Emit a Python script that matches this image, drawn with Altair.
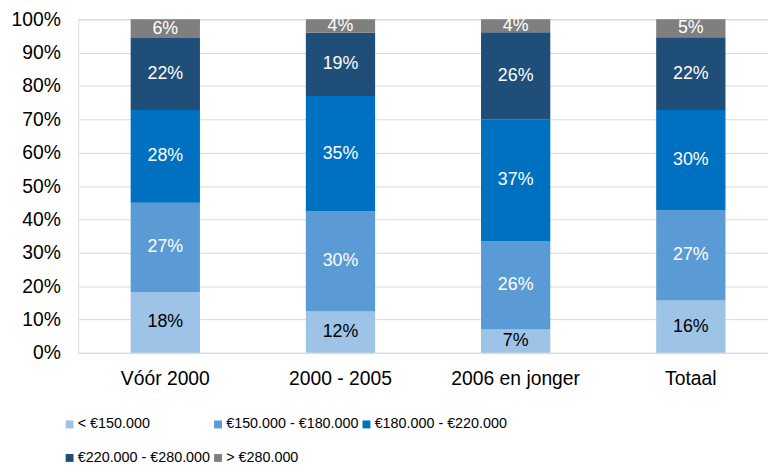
import altair as alt
import pandas as pd

categories = ["Vóór 2000", "2000 - 2005", "2006 en jonger", "Totaal"]
brackets = ["< €150.000", "€150.000 - €180.000", "€180.000 - €220.000",
            "€220.000 - €280.000", "> €280.000"]
colors = ["#9DC3E6", "#5B9BD5", "#0070C0", "#1F4E79", "#7F7F7F"]

share_lt150 = [18.2, 12.4, 7.0, 15.7]
share_150_180 = [26.8, 30.0, 26.4, 27.0]
share_180_220 = [27.8, 34.6, 36.6, 30.1]
share_220_280 = [21.6, 19.0, 26.1, 21.8]
share_gt280 = [5.6, 4.0, 3.9, 5.4]

y_ticks = [0, 10, 20, 30, 40, 50, 60, 70, 80, 90, 100]

series = [share_lt150, share_150_180, share_180_220, share_220_280, share_gt280]
rows = []
for bi, (b, vals) in enumerate(zip(brackets, series)):
    for c, v in zip(categories, vals):
        rows.append({"cat": c, "bracket": b, "order": bi, "value": v})
df = pd.DataFrame(rows)

FONT = "Liberation Sans"

base = alt.Chart(df).transform_stack(
    stack="value",
    groupby=["cat"],
    sort=[alt.SortField("order", order="ascending")],
    as_=["y0", "y1"],
).transform_calculate(
    mid="(datum.y0 + datum.y1) / 2",
    label="format(datum.value, '.0f') + '%'",
)

x_scale = alt.Scale(paddingInner=0.6045, paddingOuter=0.271, align=0.552)
y_scale = alt.Scale(domain=[0, 100], nice=False)
x_axis = alt.Axis(title=None, labelAngle=0, ticks=False, domain=False,
                  labelFontSize=19.5, labelPadding=17, labelColor="#000000",
                  labelFont=FONT)
y_axis = alt.Axis(values=y_ticks, labelExpr="datum.value + '%'",
                  title=None, ticks=False, domain=False, grid=True,
                  gridColor="#D9D9D9", gridWidth=1, labelOverlap=False,
                  labelPadding=18, labelFontSize=19.5,
                  labelColor="#000000", labelFont=FONT)

bars = base.mark_bar().encode(
    x=alt.X("cat:N", sort=categories, scale=x_scale, axis=x_axis),
    y=alt.Y("y0:Q", scale=y_scale, axis=y_axis),
    y2="y1:Q",
    color=alt.Color("bracket:N",
                    scale=alt.Scale(domain=brackets, range=colors),
                    legend=alt.Legend(orient="none", legendX=-16, legendY=402,
                                      columns=3, direction="horizontal",
                                      gridAlign="all",
                                      title=None, symbolType="square",
                                      symbolSize=64, labelFontSize=14.5,
                                      labelFont=FONT, labelColor="#000000",
                                      columnPadding=-12, rowPadding=19,
                                      labelOffset=1, padding=0,
                                      symbolStrokeWidth=0, labelLimit=300)),
)

texts = base.mark_text(fontSize=18, font=FONT).encode(
    x=alt.X("cat:N", sort=categories, scale=x_scale, axis=x_axis),
    y=alt.Y("mid:Q", scale=y_scale, axis=y_axis),
    text="label:N",
    color=alt.condition("datum.order == 0", alt.value("#000000"), alt.value("#FFFFFF")),
)

chart = alt.layer(bars, texts).properties(
    width=697,
    height=337,
    autosize=alt.AutoSizeParams(type="none"),
    padding={"left": 71, "top": 9, "right": 0, "bottom": 118},
).configure_view(strokeWidth=0).configure(font=FONT)

chart.save("out.html", embed_options={"renderer": "svg", "actions": False})
